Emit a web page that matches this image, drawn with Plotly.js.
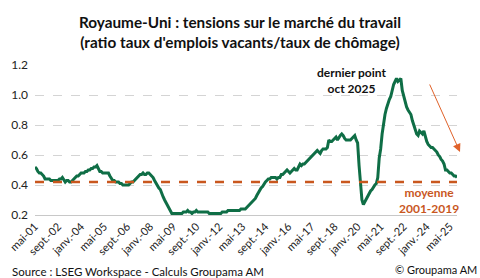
<!DOCTYPE html>
<html>
<head>
<meta charset="utf-8">
<script src="https://cdn.plot.ly/plotly-3.0.1.min.js"></script>
<style>html,body{margin:0;padding:0;background:#fff;}#chart{width:480px;height:278px;}</style>
</head>
<body>
<div id="chart"></div>
<script>
// Monthly ratio (vacancy rate / unemployment rate), May 2001 – Oct 2025
const startYear = 2001, startMonth = 5; // May 2001
const monthNames = ['janv.', 'févr.', 'mars', 'avr.', 'mai', 'juin', 'juil.', 'août', 'sept.', 'oct.', 'nov.', 'déc.'];
const ratio = [
  // 2001 (mai-déc)
  0.52, 0.51, 0.49, 0.48, 0.48, 0.47, 0.46, 0.44,
  // 2002
  0.44, 0.44, 0.44, 0.43, 0.43, 0.43, 0.43, 0.43, 0.43, 0.44, 0.44, 0.45,
  // 2003
  0.43, 0.42, 0.43, 0.43, 0.42, 0.42, 0.43, 0.44, 0.45, 0.46, 0.46, 0.47,
  // 2004
  0.48, 0.48, 0.48, 0.49, 0.49, 0.50, 0.50, 0.51, 0.51, 0.52, 0.52, 0.53,
  // 2005
  0.51, 0.49, 0.49, 0.48, 0.48, 0.48, 0.48, 0.48, 0.46, 0.44, 0.43, 0.43,
  // 2006
  0.42, 0.42, 0.42, 0.41, 0.41, 0.40, 0.40, 0.40, 0.40, 0.40, 0.41, 0.42,
  // 2007
  0.42, 0.43, 0.44, 0.45, 0.46, 0.47, 0.47, 0.48, 0.47, 0.47, 0.48, 0.48,
  // 2008
  0.47, 0.46, 0.45, 0.43, 0.41, 0.39, 0.38, 0.37, 0.34, 0.32, 0.30, 0.28,
  // 2009
  0.26, 0.24, 0.22, 0.21, 0.21, 0.21, 0.21, 0.21, 0.21, 0.21, 0.21, 0.22,
  // 2010
  0.22, 0.22, 0.23, 0.22, 0.22, 0.21, 0.22, 0.22, 0.23, 0.22, 0.22, 0.22,
  // 2011
  0.22, 0.22, 0.22, 0.22, 0.22, 0.21, 0.21, 0.21, 0.21, 0.21, 0.21, 0.21,
  // 2012
  0.21, 0.21, 0.22, 0.22, 0.22, 0.22, 0.23, 0.23, 0.23, 0.23, 0.23, 0.23,
  // 2013
  0.23, 0.23, 0.23, 0.24, 0.24, 0.24, 0.24, 0.25, 0.26, 0.27, 0.28, 0.29,
  // 2014
  0.30, 0.31, 0.33, 0.35, 0.37, 0.38, 0.39, 0.41, 0.42, 0.43, 0.44, 0.44,
  // 2015
  0.45, 0.45, 0.45, 0.45, 0.44, 0.45, 0.45, 0.47, 0.47, 0.48, 0.49, 0.50,
  // 2016
  0.49, 0.48, 0.49, 0.50, 0.51, 0.50, 0.50, 0.52, 0.54, 0.53, 0.54, 0.54,
  // 2017
  0.55, 0.56, 0.57, 0.58, 0.59, 0.60, 0.61, 0.62, 0.63, 0.62, 0.61, 0.63,
  // 2018
  0.64, 0.64, 0.64, 0.65, 0.70, 0.69, 0.69, 0.70, 0.71, 0.72, 0.70, 0.72,
  // 2019
  0.73, 0.74, 0.73, 0.71, 0.70, 0.70, 0.70, 0.70, 0.71, 0.72, 0.73, 0.70,
  // 2020
  0.68, 0.53, 0.40, 0.30, 0.27, 0.29, 0.31, 0.33, 0.35, 0.36, 0.37, 0.39,
  // 2021
  0.40, 0.41, 0.45, 0.58, 0.64, 0.74, 0.81, 0.87, 0.91, 0.95, 0.97, 0.99,
  // 2022
  1.04, 1.07, 1.09, 1.11, 1.09, 1.10, 1.11, 1.03, 0.99, 0.95, 0.92, 0.90,
  // 2023
  0.88, 0.87, 0.83, 0.80, 0.78, 0.74, 0.73, 0.76, 0.75, 0.74, 0.76, 0.72,
  // 2024
  0.69, 0.67, 0.66, 0.65, 0.65, 0.64, 0.63, 0.62, 0.60, 0.59, 0.57, 0.56,
  // 2025 (janv-oct)
  0.54, 0.50, 0.50, 0.49, 0.48, 0.48, 0.47, 0.46, 0.46, 0.45
];
const averageValue = 0.42; // moyenne 2001-2019
const tickLabels = ['mai-01', 'sept.-02', 'janv.-04', 'mai-05', 'sept.-06', 'janv.-08', 'mai-09', 'sept.-10', 'janv.-12', 'mai-13', 'sept.-14', 'janv.-16', 'mai-17', 'sept.-18', 'janv.-20', 'mai-21', 'sept.-22', 'janv.-24', 'mai-25'];
const yTicks = [0.2, 0.4, 0.6, 0.8, 1.0, 1.2];

const months = ratio.map((_, i) => {
  const m = (startMonth - 1 + i) % 12;
  const y = startYear + Math.floor((startMonth - 1 + i) / 12);
  return monthNames[m] + '-' + String(y % 100).padStart(2, '0');
});

const FONT = 'Lato, "Open Sans", sans-serif';
const GREEN = '#0F6E46';
const ORANGE = '#C9571E';

const traces = [
  {
    x: months, y: ratio, type: 'scatter', mode: 'lines',
    line: {color: GREEN, width: 3}, hoverinfo: 'skip'
  },
  {
    x: [months[0], months[months.length - 1]], y: [averageValue, averageValue],
    type: 'scatter', mode: 'lines',
    line: {color: ORANGE, width: 2.5, dash: 'dash'}, hoverinfo: 'skip'
  }
];

const layout = {
  width: 480, height: 278,
  margin: {l: 35, r: 23, t: 65, b: 63},
  paper_bgcolor: '#fff', plot_bgcolor: '#fff',
  showlegend: false,
  font: {family: FONT, size: 11, color: '#222'},
  title: {
    text: "<b>Royaume-Uni : tensions sur le marché du travail<br>(ratio taux d'emplois vacants/taux de chômage)</b>",
    font: {family: FONT, size: 15.3, color: '#111'},
    x: 0.5, xanchor: 'center', xref: 'container',
    y: 0.9, yanchor: 'top', yref: 'container'
  },
  xaxis: {
    type: 'category', range: [0, months.length - 1],
    tickmode: 'array', tickvals: tickLabels, ticktext: tickLabels,
    tickangle: -45, tickfont: {family: FONT, size: 11, color: '#222'},
    showgrid: false, showline: true, linecolor: '#c8c8c8', linewidth: 1,
    ticks: '', zeroline: false, fixedrange: true
  },
  yaxis: {
    range: [0.2, 1.2], tickmode: 'array', tickvals: yTicks,
    ticktext: yTicks.map(v => v.toFixed(1)),
    tickfont: {family: FONT, size: 12, color: '#222'},
    showgrid: true, gridcolor: '#d4d4d4', griddash: 'dash', gridwidth: 1,
    zeroline: false, showline: false, ticks: '', ticklabelstandoff: 6, fixedrange: true
  },
  annotations: [
    {
      text: '<b>dernier point<br>oct 2025</b>', xref: 'paper', yref: 'paper',
      x: (352 - 35) / 422, y: (215 - 80) / 150, xanchor: 'center', yanchor: 'middle',
      showarrow: false, font: {family: FONT, size: 12, color: '#111'}
    },
    {
      text: '<b>moyenne<br>2001-2019</b>', xref: 'paper', yref: 'paper',
      x: (429 - 35) / 422, y: (215 - 200.5) / 150, xanchor: 'center', yanchor: 'middle',
      showarrow: false, font: {family: FONT, size: 12, color: ORANGE}
    },
    {
      text: '', xref: 'paper', yref: 'paper',
      x: (460 - 35) / 422, y: (215 - 152) / 150,
      ax: -31, ay: -69, showarrow: true, arrowhead: 2, arrowsize: 1.6,
      arrowwidth: 1, arrowcolor: '#E0622A'
    },
    {
      text: 'Source : LSEG Workspace - Calculs Groupama AM', xref: 'paper', yref: 'paper',
      x: -25 / 422, y: -56 / 150, xanchor: 'left', yanchor: 'middle',
      showarrow: false, font: {family: FONT, size: 11.5, color: '#111'}
    },
    {
      text: '© Groupama AM', xref: 'paper', yref: 'paper',
      x: (479 - 35) / 422, y: -54 / 150, xanchor: 'right', yanchor: 'middle',
      showarrow: false, font: {family: FONT, size: 11, color: '#111'}
    }
  ]
};

Plotly.newPlot('chart', traces, layout, {displayModeBar: false, staticPlot: true});
</script>
</body>
</html>
